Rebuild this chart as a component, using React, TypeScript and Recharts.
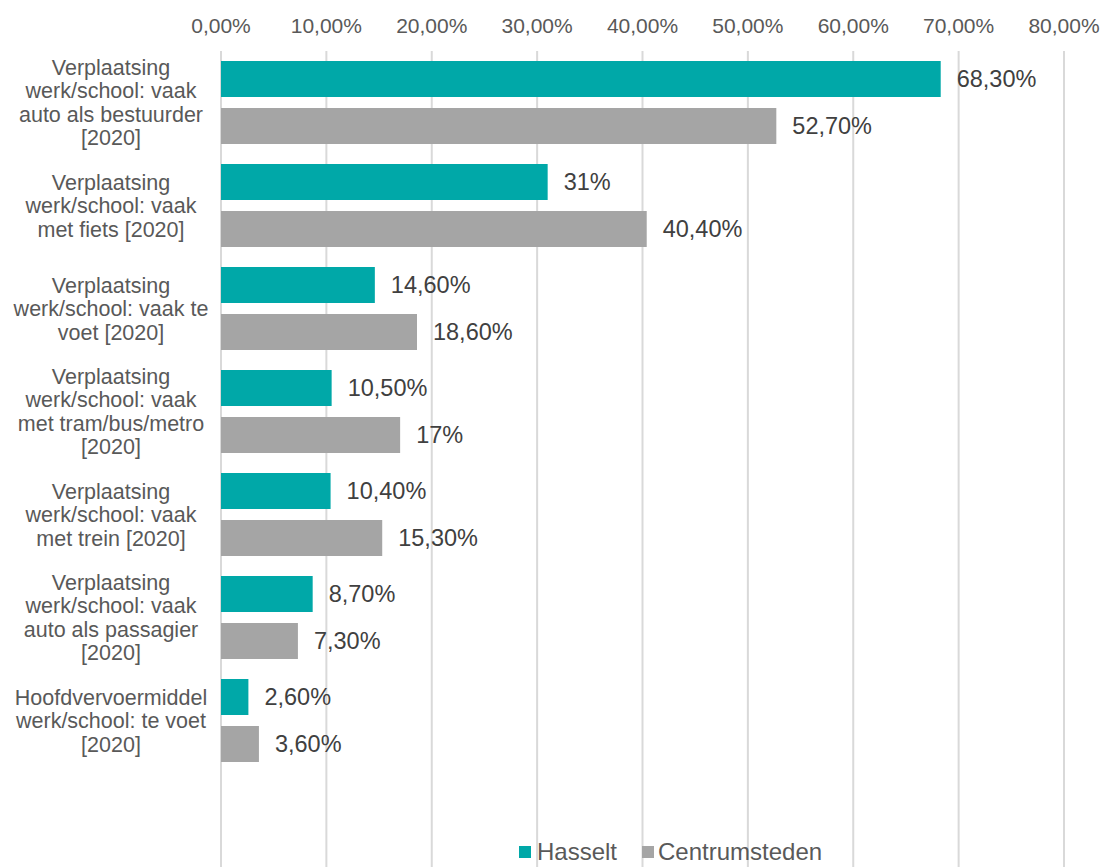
import { BarChart, Bar, XAxis, YAxis, CartesianGrid, LabelList } from "recharts";

const categories = [
  "Verplaatsing\nwerk/school: vaak\nauto als bestuurder\n[2020]",
  "Verplaatsing\nwerk/school: vaak\nmet fiets [2020]",
  "Verplaatsing\nwerk/school: vaak te\nvoet [2020]",
  "Verplaatsing\nwerk/school: vaak\nmet tram/bus/metro\n[2020]",
  "Verplaatsing\nwerk/school: vaak\nmet trein [2020]",
  "Verplaatsing\nwerk/school: vaak\nauto als passagier\n[2020]",
  "Hoofdvervoermiddel\nwerk/school: te voet\n[2020]",
];
const hasselt = [68.3, 31, 14.6, 10.5, 10.4, 8.7, 2.6];
const centrumsteden = [52.7, 40.4, 18.6, 17, 15.3, 7.3, 3.6];
const xTicks = [0, 10, 20, 30, 40, 50, 60, 70, 80];

const data = categories.map((name, i) => ({
  name,
  hasselt: hasselt[i],
  centrumsteden: centrumsteden[i],
}));

const TEAL = "#00A8A8";
const GREY = "#A5A5A5";
const FONT = "'Liberation Sans', Arial, sans-serif";

const fmtLabel = (v: any) => {
  const n = Number(v);
  return Number.isInteger(n) ? `${n}%` : n.toFixed(2).replace(".", ",") + "%";
};

const CategoryTick = (props: any) => {
  const { y, payload } = props;
  const lines = String(payload.value).split("\n");
  const lh = 23.5;
  const start = y - ((lines.length - 1) * lh) / 2;
  return (
    <text x={111} y={start} textAnchor="middle" fill="#595959" fontSize={21.5} fontFamily={FONT}>
      {lines.map((l, i) => (
        <tspan key={i} x={111} y={start + i * lh} dy="0.36em">
          {l}
        </tspan>
      ))}
    </text>
  );
};

export default function App() {
  return (
    <div style={{ position: "absolute", left: 0, top: 0, width: 1101, height: 867, background: "#fff" }}>
      <BarChart
        width={1101}
        height={867}
        data={data}
        layout="vertical"
        margin={{ top: 0, right: 37, bottom: 0, left: 0 }}
        barSize={36}
        barGap={11}
      >
        <CartesianGrid horizontal={false} stroke="#D9D9D9" strokeWidth={2} />
        <XAxis
          type="number"
          orientation="top"
          domain={[0, 80]}
          ticks={xTicks}
          tickFormatter={(v: number) => v.toFixed(2).replace(".", ",") + "%"}
          axisLine={false}
          tickLine={false}
          tickSize={0}
          tickMargin={18}
          height={51}
          interval={0}
          tick={{ fill: "#595959", fontSize: 21, fontFamily: FONT }}
        />
        <YAxis
          type="category"
          dataKey="name"
          width={221}
          axisLine={false}
          tickLine={false}
          interval={0}
          padding={{ top: 0, bottom: 95 }}
          tick={<CategoryTick />}
        />
        <Bar dataKey="hasselt" fill={TEAL} isAnimationActive={false}>
          <LabelList
            dataKey="hasselt"
            position="right"
            offset={16}
            formatter={fmtLabel}
            fill="#404040"
            fontSize={23.5}
            fontFamily={FONT}
          />
        </Bar>
        <Bar dataKey="centrumsteden" fill={GREY} isAnimationActive={false}>
          <LabelList
            dataKey="centrumsteden"
            position="right"
            offset={16}
            formatter={fmtLabel}
            fill="#404040"
            fontSize={23.5}
            fontFamily={FONT}
          />
        </Bar>
      </BarChart>
      <div
        style={{
          position: "absolute",
          left: 519,
          top: 838,
          display: "flex",
          alignItems: "center",
          fontFamily: FONT,
          fontSize: 24,
          color: "#595959",
          lineHeight: "28px",
        }}
      >
        <span style={{ width: 12, height: 12, background: TEAL, display: "inline-block", marginRight: 6 }} />
        <span style={{ marginRight: 25 }}>Hasselt</span>
        <span style={{ width: 12, height: 12, background: GREY, display: "inline-block", marginRight: 4 }} />
        <span>Centrumsteden</span>
      </div>
    </div>
  );
}
